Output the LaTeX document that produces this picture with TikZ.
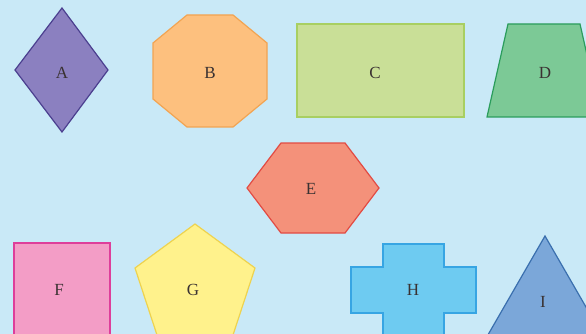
\documentclass[tikz,border=0pt]{standalone}
\usepackage{fontspec}
\setmainfont{Liberation Serif}
\definecolor{bgblau}{HTML}{C9E9F7}
\definecolor{lblgrau}{HTML}{3A3232}
\definecolor{fillA}{HTML}{8B80C0}\definecolor{drawA}{HTML}{4B3F8F}
\definecolor{fillB}{HTML}{FDC07E}\definecolor{drawB}{HTML}{F2A452}
\definecolor{fillC}{HTML}{C9DF97}\definecolor{drawC}{HTML}{A8CF62}
\definecolor{fillD}{HTML}{7CC996}\definecolor{drawD}{HTML}{2A9D5C}
\definecolor{fillE}{HTML}{F4917A}\definecolor{drawE}{HTML}{E24B43}
\definecolor{fillF}{HTML}{F39DC6}\definecolor{drawF}{HTML}{DE3E9A}
\definecolor{fillG}{HTML}{FFF28C}\definecolor{drawG}{HTML}{EED34F}
\definecolor{fillH}{HTML}{6ECBF1}\definecolor{drawH}{HTML}{37A5E3}
\definecolor{fillI}{HTML}{7BA7D9}\definecolor{drawI}{HTML}{3A6FAE}
\usetikzlibrary{positioning}

\begin{document}
\begin{tikzpicture}[
    x=1pt, y=-1pt,
    form/.style={line width=1.2pt, line join=miter},
    lbl/.style={font=\fontsize{17}{19}\selectfont, text=lblgrau, inner sep=0pt}
  ]
  \fill[bgblau] (0,0) rectangle (586,334);
  \useasboundingbox (0,0) rectangle (586,334);
  \clip (0,0) rectangle (586,334);

  % obere Reihe
  \filldraw[form, fill=fillA, draw=drawA]
    (62,8) -- (108,70) -- (62,132) -- (15,70) -- cycle;
  \filldraw[form, fill=fillB, draw=drawB]
    (187,15) -- (233,15) -- (267,43) -- (267,99) -- (233,127)
    -- (187,127) -- (153,99) -- (153,43) -- cycle;
  \filldraw[form, fill=fillC, draw=drawC] (297,24) rectangle (464,117);
  \filldraw[form, fill=fillD, draw=drawD]
    (508,24) -- (580,24) -- (601,117) -- (487,117) -- cycle;

  % Mitte
  \filldraw[form, fill=fillE, draw=drawE]
    (247,188) -- (281,143) -- (345,143) -- (379,188) -- (345,233)
    -- (281,233) -- cycle;

  % untere Reihe
  \filldraw[form, fill=fillF, draw=drawF] (14,243) rectangle (110,345);
  \filldraw[form, fill=fillG, draw=drawG]
    (195,224) -- (255,268) -- (232,338) -- (158,338) -- (135,268) -- cycle;
  \filldraw[form, fill=fillH, draw=drawH]
    (383,244) -- (444,244) -- (444,267) -- (476,267) -- (476,313)
    -- (444,313) -- (444,345) -- (383,345) -- (383,313) -- (351,313)
    -- (351,267) -- (383,267) -- cycle;
  \filldraw[form, fill=fillI, draw=drawI]
    (545,236) -- (605,340) -- (485,340) -- cycle;

  \node[lbl] (a) at (62,73)  {A};
  \node[lbl] (b) at (210,73) {B};
  \node[lbl] (c) at (375,73) {C};
  \node[lbl] (d) at (545,73) {D};
  \node[lbl] (e) at (311,189) {E};
  \node[lbl] (f) at (59,290) {F};
  \node[lbl] (g) at (193,290) {G};
  \node[lbl] (h) at (413,290) {H};
  \node[lbl] (i) at (543,302) {I};
\end{tikzpicture}
\end{document}
